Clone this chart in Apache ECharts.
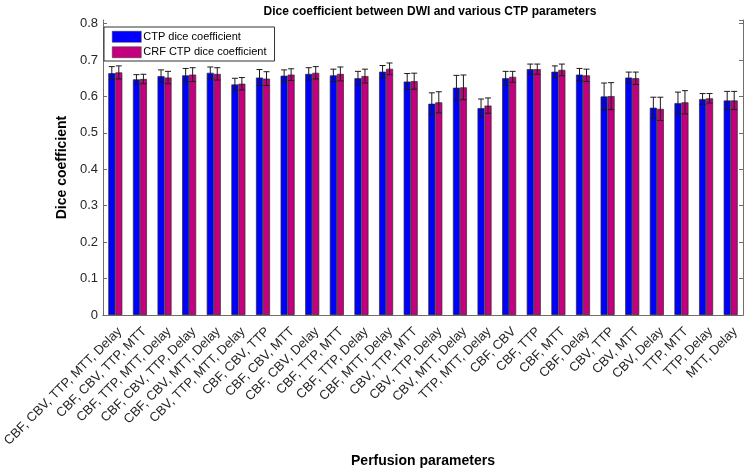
<!DOCTYPE html>
<html>
<head>
<meta charset="utf-8">
<script src="https://cdn.jsdelivr.net/npm/echarts@6/dist/echarts.min.js"></script>
<style>html,body{margin:0;padding:0;background:#fff;}#c{width:750px;height:470px;}</style>
</head>
<body>
<div id="c"></div>
<script>
var categories = ["CBF, CBV, TTP, MTT, Delay","CBF, CBV, TTP, MTT","CBF, TTP, MTT, Delay","CBF, CBV, TTP, Delay","CBF, CBV, MTT, Delay","CBV, TTP, MTT, Delay","CBF, CBV, TTP","CBF, CBV, MTT","CBF, CBV, Delay","CBF, TTP, MTT","CBF, TTP, Delay","CBF, MTT, Delay","CBV, TTP, MTT","CBV, TTP, Delay","CBV, MTT, Delay","TTP, MTT, Delay","CBF, CBV","CBF, TTP","CBF, MTT","CBF, Delay","CBV, TTP","CBV, MTT","CBV, Delay","TTP, MTT","TTP, Delay","MTT, Delay"];
var ctp = [0.664,0.647,0.656,0.658,0.665,0.633,0.652,0.657,0.662,0.658,0.650,0.668,0.641,0.580,0.624,0.568,0.650,0.675,0.668,0.660,0.600,0.652,0.569,0.582,0.593,0.589];
var crf = [0.666,0.648,0.652,0.660,0.662,0.635,0.649,0.660,0.665,0.662,0.656,0.676,0.642,0.584,0.625,0.575,0.654,0.675,0.673,0.658,0.601,0.650,0.566,0.584,0.595,0.589];
var ctpErr = [0.018,0.013,0.017,0.019,0.016,0.017,0.022,0.016,0.017,0.017,0.019,0.017,0.022,0.030,0.034,0.025,0.019,0.014,0.016,0.017,0.037,0.015,0.029,0.030,0.015,0.025];
var crfErr = [0.018,0.013,0.017,0.019,0.017,0.017,0.019,0.016,0.017,0.019,0.019,0.016,0.022,0.029,0.034,0.021,0.015,0.014,0.016,0.017,0.037,0.017,0.032,0.032,0.013,0.025];
var yTicks = [0,0.1,0.2,0.3,0.4,0.5,0.6,0.7,0.8];

var FONT = '"Liberation Sans", Arial, sans-serif';
var BAR_W = 7;

function errData(vals, errs){
  return vals.map(function(v,i){ return [i, v, errs[i]]; });
}
function errRender(offset){
  return function(params, api){
    var i = api.value(0), v = api.value(1), e = api.value(2);
    var top = api.coord([i, v + e]);
    var bot = api.coord([i, v - e]);
    var x = top[0] + offset;
    var hw = 3;
    var st = {stroke:'#1a1a1a', lineWidth:1};
    return {type:'group', children:[
      {type:'line', shape:{x1:x, y1:top[1], x2:x, y2:bot[1]}, style:st},
      {type:'line', shape:{x1:x-hw, y1:top[1], x2:x+hw, y2:top[1]}, style:st},
      {type:'line', shape:{x1:x-hw, y1:bot[1], x2:x+hw, y2:bot[1]}, style:st}
    ]};
  };
}

var chart = echarts.init(document.getElementById('c'), null, {renderer:'canvas'});
var axisCol = '#6e6e6e';
chart.setOption({
  animation:false,
  backgroundColor:'#ffffff',
  textStyle:{fontFamily:FONT},
  title:{text:'Dice coefficient between DWI and various CTP parameters', left:425, textAlign:'center', top:1,
    textStyle:{fontFamily:FONT, fontSize:12, fontWeight:'bold', color:'#000'}},
  grid:{left:103, right:7, top:20, bottom:155, containLabel:false, outerBoundsMode:'none'},
  legend:{
    data:['CTP dice coefficient','CRF CTP dice coefficient'],
    orient:'vertical', left:104, top:27,
    icon:'rect',
    itemWidth:29, itemHeight:11, itemGap:4,
    padding:[4,8,3,8],
    borderColor:'#333', borderWidth:1, backgroundColor:'#fff',
    textStyle:{fontFamily:FONT, fontSize:11, color:'#000', padding:[0,0,0,-3]},
    itemStyle:{borderColor:'#333', borderWidth:0.5}
  },
  xAxis:[{
    type:'category', data:categories, position:'bottom',
    axisLine:{lineStyle:{color:axisCol}},
    axisTick:{inside:true, alignWithLabel:true, length:4, lineStyle:{color:axisCol}},
    axisLabel:{rotate:45, fontSize:13, color:'#262626', fontFamily:FONT, margin:10, interval:0, verticalAlign:'top'},
    name:'Perfusion parameters', nameLocation:'middle', nameGap:134,
    nameTextStyle:{fontFamily:FONT, fontSize:14, fontWeight:'bold', color:'#000'}
  },{
    type:'category', data:categories, position:'top',
    axisLine:{lineStyle:{color:axisCol}},
    axisTick:{inside:true, alignWithLabel:true, length:4, lineStyle:{color:axisCol}},
    axisLabel:{show:false}
  }],
  yAxis:[{
    type:'value', min:0, max:0.81, interval:0.1, position:'left',
    axisLine:{show:true, lineStyle:{color:axisCol}},
    axisTick:{show:true, inside:true, length:4, lineStyle:{color:axisCol}},
    splitLine:{show:false},
    axisLabel:{fontSize:13, color:'#262626', fontFamily:FONT, margin:5, showMaxLabel:false,
      formatter:function(v){ var r = Math.round(v*10)/10; return (yTicks.indexOf(r)>=0 && Math.abs(v-r)<1e-6) ? String(r) : ''; }},
    name:'Dice coefficient', nameLocation:'middle', nameGap:30,
    nameTextStyle:{fontFamily:FONT, fontSize:14, fontWeight:'bold', color:'#000'}
  },{
    type:'value', min:0, max:0.81, interval:0.1, position:'right',
    axisLine:{show:true, lineStyle:{color:axisCol}},
    axisTick:{show:true, inside:true, length:4, lineStyle:{color:axisCol}},
    splitLine:{show:false}, axisLabel:{show:false}
  }],
  series:[
    {name:'CTP dice coefficient', type:'bar', data:ctp, barWidth:BAR_W, barGap:'0%',
      itemStyle:{color:'#0000ff', borderColor:'#2b2b2b', borderWidth:0.7}},
    {name:'CRF CTP dice coefficient', type:'bar', data:crf, barWidth:BAR_W, barGap:'0%',
      itemStyle:{color:'#c4007f', borderColor:'#2b2b2b', borderWidth:0.7}},
    {type:'custom', data:errData(ctp, ctpErr), renderItem:errRender(-BAR_W/2), encode:{x:0,y:1}, z:5, silent:true},
    {type:'custom', data:errData(crf, crfErr), renderItem:errRender(BAR_W/2), encode:{x:0,y:1}, z:5, silent:true}
  ]
});
</script>
</body>
</html>
